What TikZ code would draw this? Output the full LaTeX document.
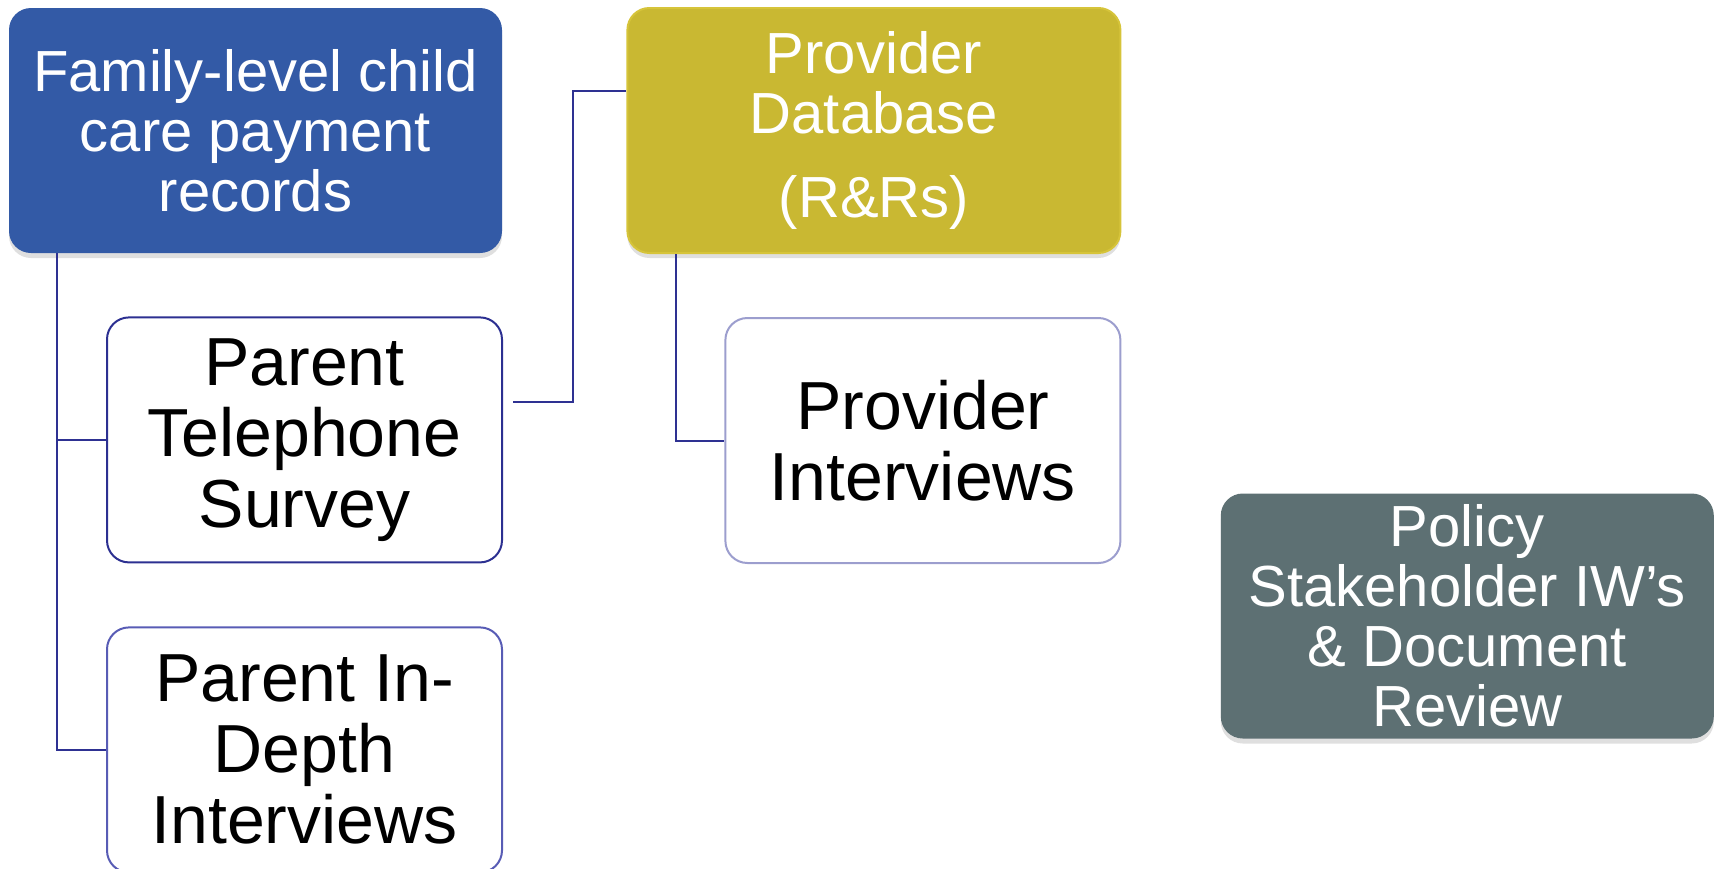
\documentclass[tikz,border=0pt]{standalone}
\usepackage{fontspec}
\setmainfont{Liberation Sans}
\usepackage{tikz}
\usetikzlibrary{positioning,shadows}
\definecolor{ccblue}{RGB}{51,90,166}
\definecolor{ccgold}{RGB}{201,184,50}
\definecolor{ccgoldedge}{RGB}{214,196,58}
\definecolor{ccslate}{RGB}{93,112,115}
\definecolor{ccnavy}{RGB}{46,49,146}
\definecolor{ccedgedark}{RGB}{44,48,145}
\definecolor{ccedgemid}{RGB}{88,92,181}
\definecolor{ccedgelight}{RGB}{156,158,206}
\tikzstyle{source} = [rectangle, rounded corners=11pt, minimum width=246.5pt, minimum height=122.5pt, align=center, text=white, font=\fontsize{29pt}{30pt}\selectfont, drop shadow={shadow xshift=0pt, shadow yshift=-2.5pt, opacity=0.25}]
\tikzstyle{method} = [rectangle, rounded corners=11pt, minimum width=197.5pt, minimum height=122.5pt, align=center, fill=white, line width=1pt, font=\fontsize{34pt}{35.5pt}\selectfont]
\tikzstyle{link} = [line width=1pt, color=ccnavy]

\begin{document}
\begin{tikzpicture}
\useasboundingbox (0,0) rectangle (859.5pt,-434pt);
% Data sources
\node (payrec) [source, fill=ccblue] at (127.75pt,-65.25pt) {Family-level child\\care payment\\records};
\node (provdb) [source, fill=ccgold, draw=ccgoldedge, line width=1pt, right=62pt of payrec] {Provider\\Database\\[12pt](R\&Rs)};

% Surveys and interviews
\node (ptel) [method, draw=ccedgedark, below=31.5pt of payrec, xshift=24.5pt] {Parent\\Telephone\\Survey};
\node (pin) [method, draw=ccedgemid, below=31.5pt of ptel] {Parent In-\\Depth\\Interviews};
\node (provint) [method, draw=ccedgelight, below=31.5pt of provdb, xshift=24.5pt] {Provider\\Interviews};
\node (policy) [source, fill=ccslate, right=49.5pt of provint, yshift=-87.75pt] {Policy\\Stakeholder IW’s\\\& Document\\Review};

% Links
\coordinate (trunkA) at ([xshift=-24.5pt]ptel.west);
\draw[link] (payrec.south -| trunkA) |- (pin.west);
\draw[link] (trunkA |- ptel.west) -- (ptel.west);
\coordinate (jog) at ([xshift=35pt]ptel.north east);
\draw[link] ([xshift=5pt,yshift=18.75pt]ptel.east) -| (jog) |- ([yshift=19.75pt]provdb.west);
\coordinate (trunkB) at ([xshift=-24pt]provint.west);
\draw[link] (provdb.south -| trunkB) |- (provint.west);
\end{tikzpicture}
\end{document}
